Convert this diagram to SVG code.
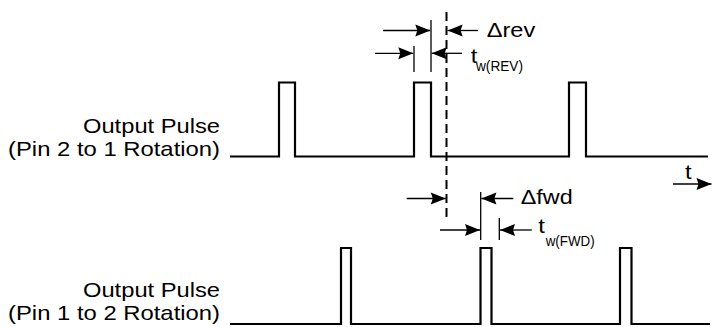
<svg xmlns="http://www.w3.org/2000/svg" width="712" height="327" viewBox="0 0 712 327">
<style>
.wave{fill:none;stroke:#000;stroke-width:2.2;stroke-linejoin:miter}
.ref{fill:none;stroke:#000;stroke-width:1.3}
.arr{fill:none;stroke:#000;stroke-width:1.3;marker-end:url(#ah)}
.dash{fill:none;stroke:#000;stroke-width:2;stroke-dasharray:9 5}
text{font-family:"Liberation Sans",Arial,sans-serif;font-size:21px;fill:#000}
.lbl{text-anchor:end}
.sub{font-size:14px}
</style>
<defs>
<marker id="ah" markerUnits="userSpaceOnUse" markerWidth="17" markerHeight="14" viewBox="-16 -7 17 14" refX="0" refY="0" orient="auto">
<path d="M0,0 L-15,-6 L-13,0 L-15,6 Z" fill="#000"/>
</marker>
</defs>
<g id="signal-rev">
<path class="wave" d="M230,156.5 H279 V82.5 H295 V156.5 H414 V82.5 H431 V156.5 H569 V82.5 H586 V156.5 H708"/>
<text class="lbl" x="220" y="132.5" textLength="137" lengthAdjust="spacingAndGlyphs">Output Pulse</text>
<text class="lbl" x="220" y="155.5" textLength="212" lengthAdjust="spacingAndGlyphs">(Pin 2 to 1 Rotation)</text>
</g>
<g id="signal-fwd">
<path class="wave" d="M230,324 H341 V248 H351 V324 H480.5 V248 H491.5 V324 H620 V248 H631.5 V324 H710"/>
<text class="lbl" x="220" y="297" textLength="137" lengthAdjust="spacingAndGlyphs">Output Pulse</text>
<text class="lbl" x="220" y="320" textLength="212" lengthAdjust="spacingAndGlyphs">(Pin 1 to 2 Rotation)</text>
</g>
<g id="time-axis">
<line class="arr" x1="673" y1="184" x2="711.5" y2="184"/>
<text x="685" y="178.5" textLength="6.6" lengthAdjust="spacingAndGlyphs">t</text>
</g>
<g id="reference-line">
<line class="dash" x1="446.5" y1="12" x2="446.5" y2="218"/>
</g>
<g id="delta-rev">
<line class="ref" x1="431" y1="20" x2="431" y2="72"/>
<text x="486.7" y="37" textLength="48.5" lengthAdjust="spacingAndGlyphs">Δrev</text>
</g>
<g id="tw-rev">
<line class="ref" x1="414" y1="46" x2="414" y2="72"/>
<text x="470.7" y="62.5" textLength="6.6" lengthAdjust="spacingAndGlyphs">t</text>
<text class="sub" x="476" y="71" textLength="47" lengthAdjust="spacingAndGlyphs">w(REV)</text>
</g>
<g id="delta-fwd">
<line class="ref" x1="480.7" y1="192" x2="480.7" y2="240"/>
<text x="520.7" y="204.3" textLength="52" lengthAdjust="spacingAndGlyphs">Δfwd</text>
</g>
<g id="tw-fwd">
<line class="ref" x1="499.3" y1="218" x2="499.3" y2="240"/>
<text x="538.3" y="233.3" textLength="6.6" lengthAdjust="spacingAndGlyphs">t</text>
<text class="sub" x="545.7" y="245.5" textLength="49" lengthAdjust="spacingAndGlyphs">w(FWD)</text>
</g>
<g id="connectors">
<line class="arr" x1="383" y1="30.5" x2="430.3" y2="30.5"/>
<line class="arr" x1="478" y1="30.5" x2="447.6" y2="30.5"/>
<line class="arr" x1="375" y1="53.3" x2="413.3" y2="53.3"/>
<line class="arr" x1="462" y1="53.3" x2="431.7" y2="53.3"/>
<line class="arr" x1="406.7" y1="198.5" x2="445.8" y2="198.5"/>
<line class="arr" x1="513.3" y1="198.5" x2="481.4" y2="198.5"/>
<line class="arr" x1="440" y1="230" x2="480" y2="230"/>
<line class="arr" x1="531.7" y1="230" x2="500" y2="230"/>
</g>
</svg>
